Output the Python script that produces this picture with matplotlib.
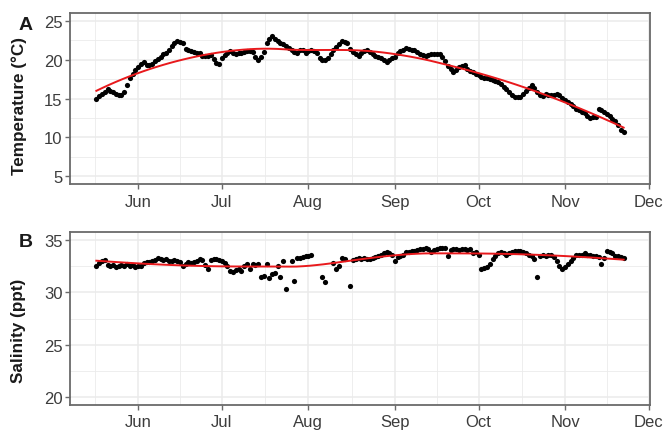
import numpy as np
import pandas as pd
import matplotlib
matplotlib.use("Agg")
import matplotlib.pyplot as plt
import matplotlib.dates as mdates

plt.rcParams['font.family'] = ['Liberation Sans', 'DejaVu Sans']

start_date = "2018-05-17"

temperature = [
    15.0, 15.3, 15.6, 15.9, 16.2, 16.0, 15.8, 15.6, 15.5, 15.4,
    15.9, 16.8, 17.6, 18.2, 18.7, 19.1, 19.4, 19.7, 19.3, 19.3,
    19.4, 19.8, 20.1, 20.4, 20.7, 20.9, 21.2, 21.8, 22.2, 22.4,
    22.3, 22.2, 21.4, 21.3, 21.1, 21.0, 20.9, 20.8, 20.5, 20.5,
    20.5, 20.6, 20.1, 19.6, 19.5, 20.2, 20.6, 20.9, 21.1, 20.9,
    20.7, 20.8, 20.9, 21.0, 21.1, 21.1, 21.0, 20.3, 19.9, 20.3,
    21.0, 22.1, 22.7, 23.0, 22.7, 22.4, 22.2, 22.0, 21.8, 21.5,
    21.2, 21.0, 20.9, 21.2, 21.2, 20.9, 21.1, 21.3, 21.1, 20.8,
    20.2, 19.9, 19.9, 20.2, 20.7, 21.2, 21.6, 22.0, 22.4, 22.3,
    22.1, 21.4, 21.0, 20.7, 20.5, 20.8, 21.1, 21.3, 21.0, 20.7,
    20.5, 20.3, 20.2, 20.0, 19.7, 19.9, 20.2, 20.4, 20.8, 21.1,
    21.3, 21.5, 21.4, 21.3, 21.2, 21.0, 20.7, 20.6, 20.5, 20.6,
    20.7, 20.7, 20.7, 20.7, 20.4, 19.8, 19.2, 18.8, 18.4, 18.7,
    19.0, 19.2, 19.3, 18.8, 18.5, 18.4, 18.2, 18.0, 17.8, 17.7,
    17.6, 17.5, 17.4, 17.3, 17.1, 16.9, 16.5, 16.2, 15.8, 15.5,
    15.2, 15.2, 15.2, 15.6, 16.0, 16.4, 16.7, 16.3, 15.9, 15.4,
    15.3, 15.6, 15.5, 15.4, 15.5, 15.6, 15.5, 15.1, 14.8, 14.5,
    14.3, 14.0, 13.7, 13.5, 13.2, 13.1, 12.8, 12.5, 12.6, 12.6,
    13.6, 13.5, 13.3, 13.0, 12.7, 12.4, 12.1, 11.6, 11.0, 10.7,
]

nan = float("nan")
salinity = [
    32.5, 32.8, 33.0, 33.1, 32.6, 32.5, 32.6, 32.4, 32.5, 32.6,
    32.5, 32.7, 32.5, 32.6, 32.4, 32.5, 32.5, 32.8, 32.9, 32.9,
    33.0, 33.1, 33.3, 33.2, 33.1, 33.2, 33.0, 33.0, 33.1, 33.0,
    32.9, 32.5, 32.7, 32.9, 32.8, 32.9, 33.0, 33.2, 33.1, 32.6,
    32.2, 33.1, 33.2, 33.2, 33.1, 33.0, 32.8, 32.5, 32.0, 31.9,
    32.1, 32.2, 32.0, 32.5, 32.7, 32.2, 32.7, 32.6, 32.7, 31.5,
    31.6, 32.7, 31.4, 31.7, 31.8, 32.5, 31.5, 33.0, 30.3, nan,
    33.0, 31.1, 33.3, 33.3, 33.4, 33.5, 33.5, 33.6, nan, nan,
    nan, 31.5, 31.0, nan, nan, 32.8, 32.2, 32.5, 33.3, 33.2,
    nan, 30.6, 33.1, 33.2, 33.3, 33.2, 33.3, 33.2, 33.2, 33.3,
    33.4, 33.5, 33.6, 33.7, 33.8, 33.7, 33.6, 33.0, 33.4, 33.5,
    33.6, 33.8, 33.8, 33.9, 33.9, 34.0, 34.1, 34.1, 34.2, 34.1,
    33.8, 34.0, 34.1, 34.2, 34.2, 34.2, 33.5, 34.0, 34.1, 34.1,
    34.0, 34.1, 34.1, 34.0, 34.1, 33.7, 33.8, 33.6, 32.2, 32.3,
    32.4, 32.7, 33.2, 33.5, 33.7, 33.8, 33.7, 33.6, 33.7, 33.8,
    33.9, 33.9, 33.9, 33.8, 33.7, 33.6, 33.5, 33.2, 31.5, 33.5,
    33.6, 33.5, 33.6, 33.6, 33.4, 33.0, 32.5, 32.2, 32.4, 32.7,
    33.0, 33.3, 33.6, 33.6, 33.6, 33.7, 33.6, 33.6, 33.5, 33.5,
    33.4, 32.7, 33.3, 33.9, 33.8, 33.7, 33.5, 33.5, 33.4, 33.3,
]

month_labels = ["Jun", "Jul", "Aug", "Sep", "Oct", "Nov", "Dec"]
temp_yticks = [5, 10, 15, 20, 25]
sal_yticks = [20, 25, 30, 35]

dates = pd.date_range(start_date, periods=len(temperature), freq="D")
xnum = mdates.date2num(dates.to_pydatetime())


def loess(x, y, xs, span=0.75):
    x = np.asarray(x, float)
    y = np.asarray(y, float)
    ok = ~np.isnan(y)
    x, y = x[ok], y[ok]
    n = len(x)
    q = int(np.floor(n * span))
    out = []
    for x0 in xs:
        d = np.abs(x - x0)
        h = np.sort(d)[q - 1]
        w = np.clip(1 - (d / h) ** 3, 0, None) ** 3
        c = np.polyfit(x - x0, y, 2, w=np.sqrt(w))
        out.append(np.polyval(c, 0.0))
    return np.array(out)


xs = np.linspace(xnum.min(), xnum.max(), 80)

W, H = 666, 435
fig = plt.figure(figsize=(W / 100, H / 100), dpi=100)
axA = fig.add_axes([70 / W, 1 - 185 / H, 580 / W, 171 / H])
axB = fig.add_axes([70 / W, 1 - 406 / H, 580 / W, 173 / H])

major_x = pd.date_range("2018-05-01", "2018-12-01", freq="MS")
major_num = mdates.date2num(major_x.to_pydatetime())
minor_num = (major_num[:-1] + major_num[1:]) / 2
rng = xnum.max() - xnum.min()
xlim = (xnum.min() - 0.05 * rng, xnum.max() + 0.05 * rng)

tick_col = "#3c3c3c"
grid_col = "#ebebeb"
spine_col = "#6a6a6a"


def style(ax, yticks, ylim, pad):
    ax.set_xlim(*xlim)
    ax.set_ylim(*ylim)
    ax.set_xticks(major_num[1:])
    ax.set_xticklabels(month_labels)
    ax.set_xticks(minor_num, minor=True)
    ax.set_yticks(yticks)
    ax.set_yticks([(a + b) / 2 for a, b in zip(yticks[:-1], yticks[1:])], minor=True)
    ax.grid(True, which="major", color=grid_col, lw=1.1, zorder=0)
    ax.grid(True, which="minor", color=grid_col, lw=0.6, zorder=0)
    ax.set_axisbelow(True)
    for s in ax.spines.values():
        s.set_color(spine_col)
        s.set_linewidth(1.3)
    ax.tick_params(which="major", length=3.5, width=1.0, color=spine_col,
                   labelsize=12, labelcolor=tick_col)
    ax.tick_params(axis="x", which="major", pad=pad)
    ax.tick_params(axis="y", which="major", pad=2)
    ax.tick_params(which="minor", length=0)


yrA = temp_yticks[-1] - temp_yticks[0]
yrB = sal_yticks[-1] - sal_yticks[0]
style(axA, temp_yticks, (temp_yticks[0] - 0.05 * yrA, temp_yticks[-1] + 0.05 * yrA), 4)
style(axB, sal_yticks, (sal_yticks[0] - 0.05 * yrB, sal_yticks[-1] + 0.05 * yrB), 3)

axA.scatter(dates, temperature, s=14, color="black", linewidths=0, zorder=3)
axA.plot(mdates.num2date(xs), loess(xnum, temperature, xs), color="#e8191c", lw=1.4, zorder=4)
axB.scatter(dates, salinity, s=14, color="black", linewidths=0, zorder=3)
axB.plot(mdates.num2date(xs), loess(xnum, salinity, xs), color="#e8191c", lw=1.4, zorder=4)

fig.text(19 / W, 1 - 106 / H, "Temperature (\u00b0C)", rotation=90, ha="center",
         va="center", fontsize=12.3, fontweight="bold", color="#1a1a1a")
fig.text(19 / W, 1 - 331 / H, "Salinity (ppt)", rotation=90, ha="center",
         va="center", fontsize=12.3, fontweight="bold", color="#1a1a1a")
fig.text(25.5 / W, 1 - 25 / H, "A", ha="center", va="center", fontsize=14,
         fontweight="bold", color="#1a1a1a")
fig.text(25.5 / W, 1 - 243 / H, "B", ha="center", va="center", fontsize=14,
         fontweight="bold", color="#1a1a1a")

fig.savefig("out.png", dpi=100)
